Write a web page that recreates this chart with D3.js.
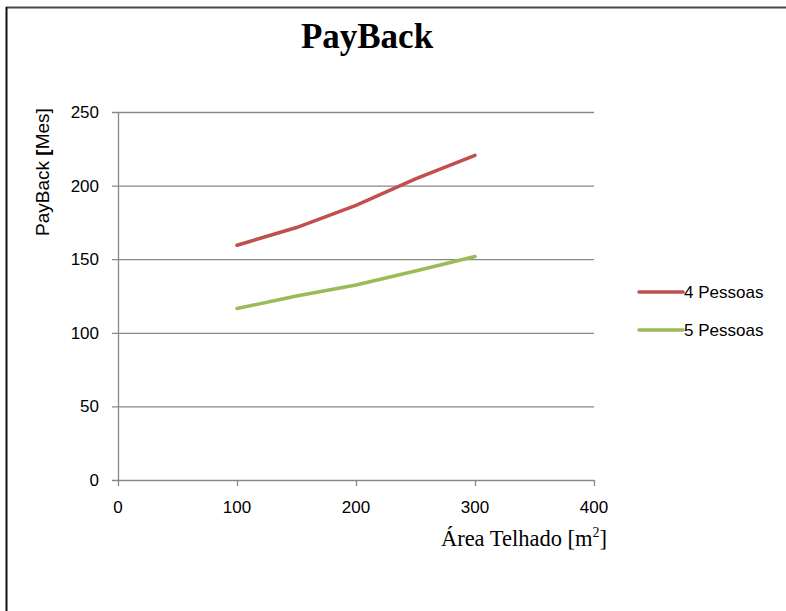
<!DOCTYPE html>
<html><head><meta charset="utf-8">
<script src="https://cdn.jsdelivr.net/npm/d3@7"></script>
<style>html,body{margin:0;padding:0;background:#fff;}svg{display:block;}</style>
</head><body>
<svg id="c" width="786" height="611"></svg>
<script>
const areas = [100, 150, 200, 250, 300];
const pessoas4 = [159.5, 171.5, 186.5, 204.5, 220.5];
const pessoas5 = [116.5, 125, 132.5, 142, 151.8];
const seriesNames = ["4 Pessoas", "5 Pessoas"];
const seriesColors = ["#C0504D", "#9BBB59"];
const yTicks = [0, 50, 100, 150, 200, 250];
const xTicks = [0, 100, 200, 300, 400];

const svg = d3.select("#c");
// frame
svg.append("line").attr("x1",6).attr("x2",786).attr("y1",7.5).attr("y2",7.5).attr("stroke","#4a4a4a").attr("stroke-width",2);
svg.append("line").attr("x1",6.5).attr("x2",6.5).attr("y1",7).attr("y2",611).attr("stroke","#111").attr("stroke-width",2);

const x = d3.scaleLinear().domain([0,400]).range([118,594]);
const y = d3.scaleLinear().domain([0,250]).range([480,112]);

// gridlines
svg.append("g").selectAll("line").data(yTicks).join("line")
  .attr("x1",112).attr("x2",594).attr("y1",d=>y(d)+0.5).attr("y2",d=>y(d)+0.5)
  .attr("stroke","#888").attr("stroke-width",1.3);
// y axis line
svg.append("line").attr("x1",x(0)+0.5).attr("x2",x(0)+0.5).attr("y1",y(250)).attr("y2",y(0)).attr("stroke","#888").attr("stroke-width",1.3);
// x ticks
svg.append("g").selectAll("line").data(xTicks).join("line")
  .attr("x1",d=>x(d)+0.5).attr("x2",d=>x(d)+0.5).attr("y1",y(0)).attr("y2",y(0)+6)
  .attr("stroke","#888").attr("stroke-width",1.3);

const tickFont = "Liberation Sans, Arial, sans-serif";
svg.append("g").selectAll("text").data(yTicks).join("text")
  .attr("x",99).attr("y",d=>y(d)+6).attr("text-anchor","end")
  .attr("font-family",tickFont).attr("font-size",17).attr("fill","#000").text(d=>d);
svg.append("g").selectAll("text").data(xTicks).join("text")
  .attr("x",d=>x(d)).attr("y",513).attr("text-anchor","middle")
  .attr("font-family",tickFont).attr("font-size",17).attr("fill","#000").text(d=>d);

// title
svg.append("text").attr("x",367).attr("y",48).attr("text-anchor","middle")
  .attr("font-family","Liberation Serif, Times New Roman, serif").attr("font-weight","bold")
  .attr("font-size",35).text("PayBack");

// y label
const yl = svg.append("text").attr("transform","translate(49,172) rotate(-90)").attr("text-anchor","middle")
  .attr("font-family",tickFont).attr("font-size",19);
yl.append("tspan").text("PayBack ");
yl.append("tspan").attr("font-weight","bold").text("[");
yl.append("tspan").text("Mes]");

// x label
const xl = svg.append("text").attr("x",524).attr("y",546).attr("text-anchor","middle")
  .attr("font-family","Liberation Serif, Times New Roman, serif").attr("font-size",22.5);
xl.append("tspan").text("Área Telhado [m");
xl.append("tspan").attr("font-size",14).attr("dy",-9).text("2");
xl.append("tspan").attr("dy",9).text("]");

// lines
const line = d3.line().x((d,i)=>x(areas[i])).y(d=>y(d));
[pessoas4, pessoas5].forEach((s,k)=>{
  svg.append("path").datum(s).attr("d",line).attr("fill","none")
    .attr("stroke",seriesColors[k]).attr("stroke-width",3.5).attr("stroke-linecap","round");
});

// legend
const ly = [292, 330];
seriesNames.forEach((n,k)=>{
  svg.append("line").attr("x1",639).attr("x2",683).attr("y1",ly[k]).attr("y2",ly[k])
    .attr("stroke",seriesColors[k]).attr("stroke-width",3.5).attr("stroke-linecap","round");
  svg.append("text").attr("x",684).attr("y",ly[k]+6).attr("font-family",tickFont)
    .attr("font-size",17).text(n);
});
</script>
</body></html>
